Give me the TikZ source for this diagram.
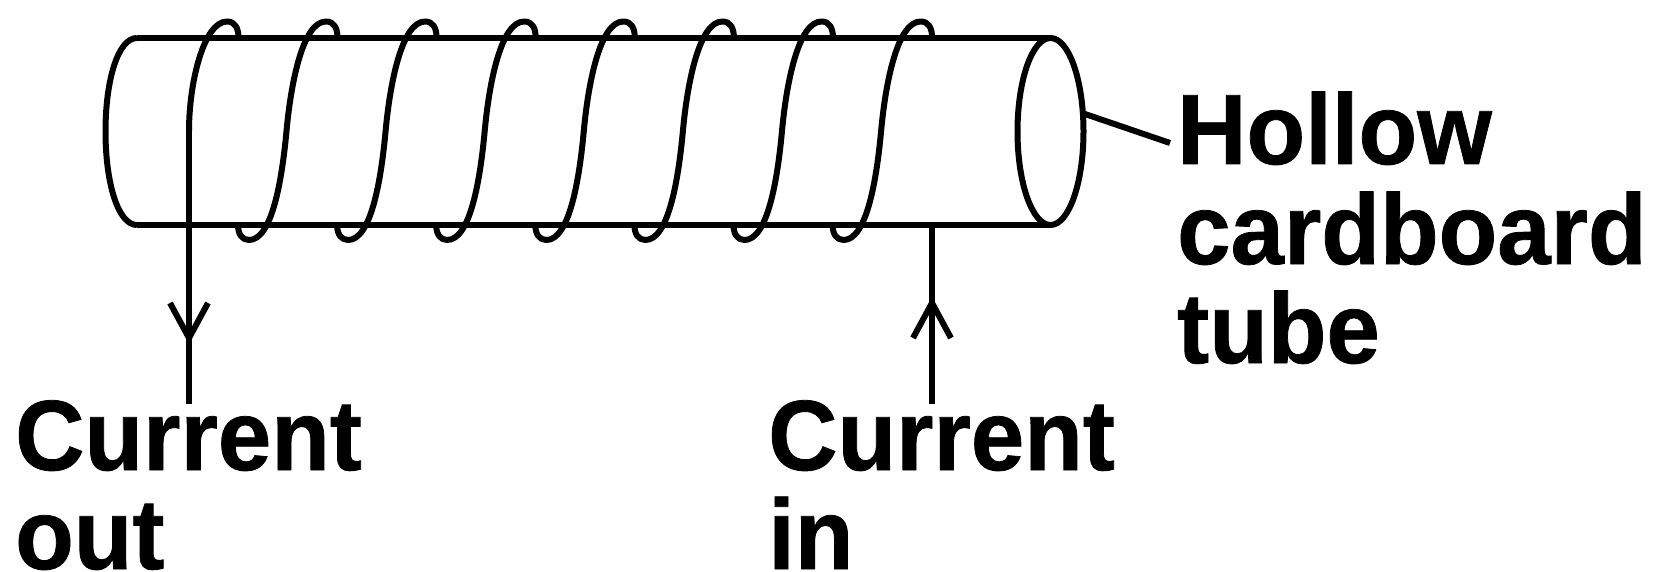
\documentclass[tikz,border=0pt]{standalone}
\usepackage{graphicx}
\usepackage{fontspec}
\setmainfont[BoldFeatures={FakeBold=0.8}]{Liberation Sans}
\newcommand{\talltext}[1]{\scalebox{1}[1.04]{#1}}
\begin{document}
\begin{tikzpicture}[x=1pt,y=-1pt,
  wire/.style={line width=6pt,line join=round,line cap=butt,black},
  lbl/.style={inner sep=0pt,anchor=base west,font=\fontsize{96}{100}\selectfont\bfseries}]
\useasboundingbox (0,0) rectangle (1657,572);
% tube
\coordinate (tl) at (137,38);
\coordinate (tr) at (1051,38);
\coordinate (bl) at (137,225);
\coordinate (br) at (1051,225);
\coordinate (tip) at (1085,114);
\coordinate (tipend) at (1170,143);
\draw[wire] (tl) -- (tr);
\draw[wire] (bl) -- (br);
\draw[wire] (tl) .. controls (118,38) and (105.5,80) .. (105.5,131.5) .. controls (105.5,183) and (118,225) .. (bl);
\draw[wire] (1050.5,131.5) ellipse (33 and 93.5);
\draw[wire] (tip) -- (tipend);
% coil: first half turn, then seven full turns
\coordinate (outtop) at (189,131);
\draw[wire] (outtop) .. controls (189,82) and (204,21.5) .. (227,21.5) .. controls (235,21.5) and (238.5,28) .. (238.5,38);
\foreach \i in {0,...,6}{
  \pgfmathsetmacro{\d}{99.1*\i}
  \begin{scope}[xshift=\d pt]
    \draw[wire] (238,225) .. controls (238,234) and (242,240) .. (249,240)
      .. controls (272,240) and (282,180) .. (286.5,131)
      .. controls (291,82) and (303,21.5) .. (326,21.5)
      .. controls (334,21.5) and (337.5,28) .. (337.5,38);
  \end{scope}
}
% current leads
\coordinate (outend) at (189,404);
\coordinate (intop) at (932,225);
\coordinate (inend) at (932,404);
\draw[wire] (outtop) -- (outend);
\draw[wire] (intop) -- (inend);
\coordinate (outapex) at (189,338);
\coordinate (inapex) at (932,303);
\draw[wire] ([shift={(-19,-35)}]outapex) -- (outapex) -- ([shift={(19,-35)}]outapex);
\draw[wire] ([shift={(-19,35)}]inapex) -- (inapex) -- ([shift={(19,35)}]inapex);
% labels
\node[lbl] (hollow) at (1177,164) {\talltext{Hollow}};
\node[lbl] (cardboard) at (1177,264) {\talltext{cardboard}};
\node[lbl] (tube) at (1177,363) {\talltext{tube}};
\node[lbl] (cout) at (15,470) {\talltext{Current}};
\node[lbl] (out) at (15,569) {\talltext{out}};
\node[lbl] (cin) at (768,470) {\talltext{Current}};
\node[lbl] (in) at (768,569) {\talltext{in}};
\end{tikzpicture}
\end{document}
